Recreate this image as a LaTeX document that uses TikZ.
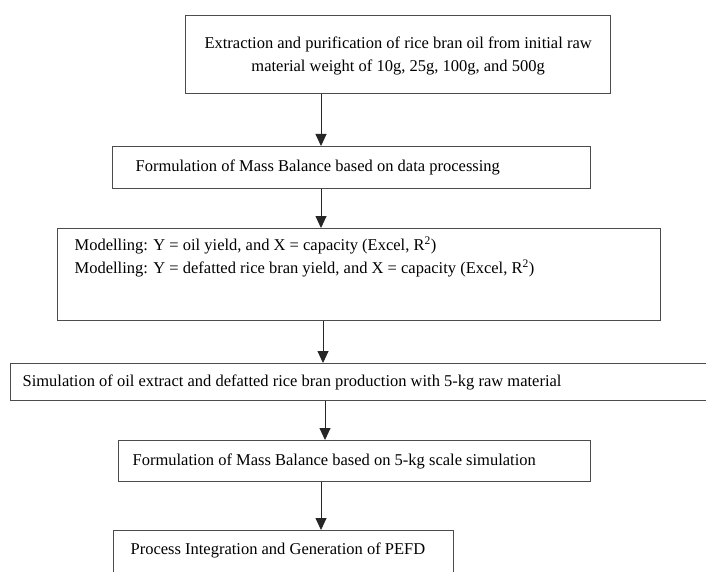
\documentclass[tikz,border=0pt]{standalone}
\usepackage{fontspec}
\setmainfont{Liberation Serif}
\usetikzlibrary{arrows.meta}
\begin{document}
\begin{tikzpicture}[x=1pt,y=-1pt,
  box/.style={draw=black!70, line width=1.2pt, inner ysep=0pt, anchor=north west,
    font=\fontsize{16.5}{23}\selectfont},
  arr/.style={draw=black!85, line width=0.9pt, -{Triangle[length=12pt,width=11pt]}}]
\useasboundingbox (0,0) rectangle (706,572);
\node[box, inner xsep=0pt] (b1) at (185,15)
  {\begin{minipage}[c][78pt][c]{425pt}\centering\vspace*{3pt}
   Extraction and purification of rice bran oil from initial raw\\
   material weight of 10g, 25g, 100g, and 500g\end{minipage}};
\node[box, inner xsep=23pt] (b2) at (112,146)
  {\begin{minipage}[c][42pt][c]{432pt}
   Formulation of Mass Balance based on data processing\end{minipage}};
\node[box, inner xsep=17pt, inner ysep=8pt] (b3) at (57,228)
  {\begin{minipage}[c][76pt][t]{569pt}
   Modelling: Y = oil yield, and X = capacity (Excel, R\textsuperscript{2})\\
   Modelling: Y = defatted rice bran yield, and X = capacity (Excel, R\textsuperscript{2})\end{minipage}};
\node[box, inner xsep=12pt] (b4) at (10,363)
  {\begin{minipage}[c][37pt][c]{696pt}
   Simulation of oil extract and defatted rice bran production with 5-kg raw material\end{minipage}};
\node[box, inner xsep=14pt] (b5) at (118,440)
  {\begin{minipage}[c][41pt][c]{444pt}
   Formulation of Mass Balance based on 5-kg scale simulation\end{minipage}};
\node[box, inner xsep=17pt, inner ysep=12pt] (b6) at (113,530)
  {\begin{minipage}[c][56pt][t]{306pt}
   Process Integration and Generation of PEFD\end{minipage}};
\coordinate (x1) at (321,0);
\coordinate (x2) at (321,0);
\coordinate (x3) at (323,0);
\coordinate (x4) at (325,0);
\coordinate (x5) at (321,0);
\draw[arr] (b1.south -| x1) -- (b2.north -| x1);
\draw[arr] (b2.south -| x2) -- (b3.north -| x2);
\draw[arr] (b3.south -| x3) -- (b4.north -| x3);
\draw[arr] (b4.south -| x4) -- (b5.north -| x4);
\draw[arr] (b5.south -| x5) -- (b6.north -| x5);
\end{tikzpicture}
\end{document}
